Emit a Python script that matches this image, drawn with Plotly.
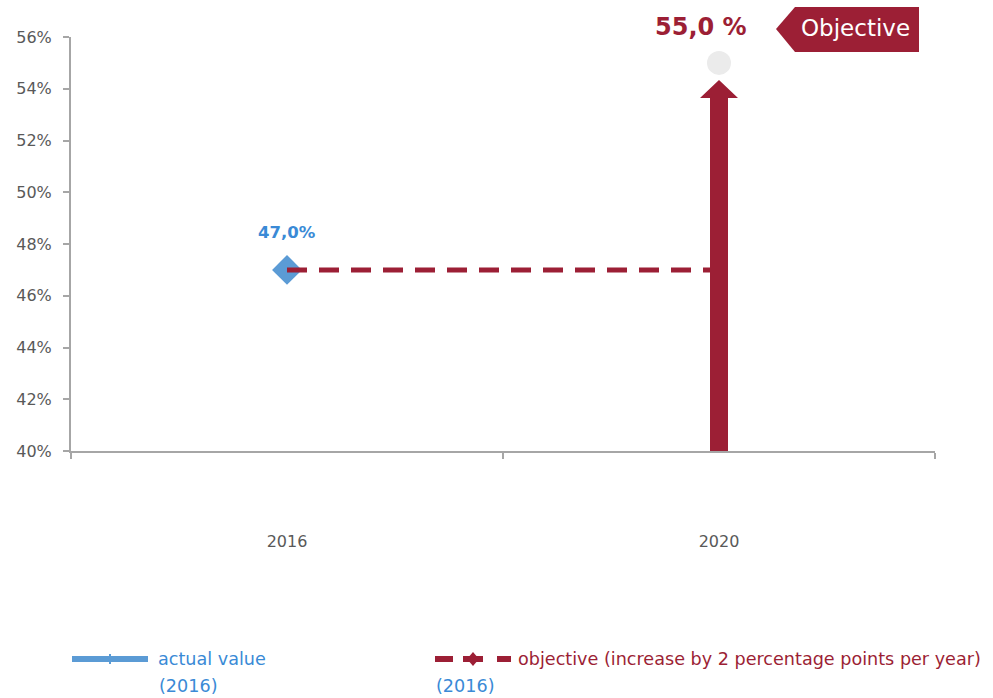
import plotly.graph_objects as go

# ---- data ----
years = ["2016", "2020"]
actual_value = [0.47, None]          # measured share in 2016
objective_line = [0.47, 0.47]        # starting level carried forward to 2020
objective_2020 = [None, 0.55]        # target for 2020
y_ticks = [0.40, 0.42, 0.44, 0.46, 0.48, 0.50, 0.52, 0.54, 0.56]

BLUE = "#5B9BD5"
BLUE_TXT = "#3A8AD6"
RED = "#9C1F35"
GREY = "#A6A6A6"
TICK_TXT = "#595959"
FONT = "DejaVu Sans"

Y_MIN, Y_MAX = y_ticks[0], y_ticks[-1]


def pct(v, sep=""):
    return f"{v * 100:.1f}".replace(".", ",") + sep + "%"


fig = go.Figure()

# actual value marker
fig.add_trace(go.Scatter(
    x=years, y=actual_value, mode="markers",
    marker=dict(symbol="diamond", size=23, color=BLUE),
    showlegend=False, hoverinfo="skip"))

# dashed objective line
fig.add_trace(go.Scatter(
    x=years, y=objective_line, mode="lines",
    line=dict(color=RED, width=5, dash="20px,12px"),
    showlegend=False, hoverinfo="skip"))

# target point
fig.add_trace(go.Scatter(
    x=years, y=objective_2020, mode="markers",
    marker=dict(symbol="circle", size=24, color="#EBEBEB"),
    showlegend=False, hoverinfo="skip"))

t_idx = 1
target = objective_2020[t_idx]
tip = target - 0.0066
head = target - 0.0136

# upward arrow towards the target
fig.add_shape(
    type="path", xref="x", yref="y", xsizemode="pixel", xanchor=t_idx,
    path=(f"M -9,{Y_MIN} L 9,{Y_MIN} L 9,{head} L 19,{head} L 0,{tip} "
          f"L -19,{head} L -9,{head} Z"),
    fillcolor=RED, line=dict(width=0), layer="above")

# "Objective" flag, placed in paper space so it is not clipped
x_paper = (t_idx + 0.5) / len(years)
y_paper = (target - Y_MIN) / (Y_MAX - Y_MIN)
fig.add_shape(
    type="path", xref="paper", yref="paper",
    xsizemode="pixel", ysizemode="pixel",
    xanchor=x_paper, yanchor=y_paper,
    path="M 57,34 L 76,56 L 200,56 L 200,11 L 76,11 Z",
    fillcolor=RED, line=dict(width=0), layer="above")
fig.add_annotation(
    x=x_paper, y=y_paper, xref="paper", yref="paper", xshift=136, yshift=35,
    xanchor="center", yanchor="middle",
    text="Objective", showarrow=False,
    font=dict(family=FONT, size=23, color="white"))

# value labels
fig.add_annotation(
    x=0, y=actual_value[0], xref="x", yref="y", yshift=37,
    text=f"<b>{pct(actual_value[0])}</b>", showarrow=False,
    font=dict(family=FONT, size=16.5, color=BLUE_TXT))
fig.add_annotation(
    x=t_idx, y=target, xref="x", yref="y", xshift=-18, yshift=36,
    text=f"<b>{pct(target, ' ')}</b>", showarrow=False,
    font=dict(family=FONT, size=24, color=RED))

# legend (drawn manually)
def px_x(px):
    return (px - 71) / 864


def px_y(py):
    return (451 - py) / 414


LEG_Y = px_y(659)
fig.add_shape(type="line", xref="paper", yref="paper",
              x0=px_x(72), x1=px_x(148), y0=LEG_Y, y1=LEG_Y,
              line=dict(color=BLUE, width=6))
fig.add_shape(type="line", xref="paper", yref="paper",
              xsizemode="pixel", ysizemode="pixel",
              xanchor=px_x(110), yanchor=LEG_Y,
              x0=0, x1=0, y0=-5, y1=5,
              line=dict(color=BLUE, width=2))
for a, b in [(435, 453), (497, 511)]:
    fig.add_shape(type="line", xref="paper", yref="paper",
                  x0=px_x(a), x1=px_x(b), y0=LEG_Y, y1=LEG_Y,
                  line=dict(color=RED, width=6))
fig.add_shape(type="line", xref="paper", yref="paper",
              x0=px_x(463), x1=px_x(483), y0=LEG_Y, y1=LEG_Y,
              line=dict(color=RED, width=6))
fig.add_shape(type="path", xref="paper", yref="paper",
              xsizemode="pixel", ysizemode="pixel",
              xanchor=px_x(473), yanchor=LEG_Y,
              path="M -6,0 L 0,7 L 6,0 L 0,-7 Z",
              fillcolor=RED, line=dict(width=0))

leg_font = dict(family=FONT, size=17.6)
for txt, px, py, col in [
    ("actual value", 156, 659, BLUE_TXT),
    ("(2016)", 157, 686, BLUE_TXT),
    ("objective (increase by 2 percentage points per year)", 516, 659, RED),
    ("(2016)", 434, 686, BLUE_TXT),
]:
    fig.add_annotation(
        x=px_x(px), y=px_y(py), xref="paper", yref="paper",
        xanchor="left", yanchor="middle", text=txt, showarrow=False,
        font=dict(color=col, **leg_font))

fig.update_xaxes(
    type="category", range=[-0.5, 1.5], tickson="boundaries",
    ticks="outside", ticklen=6, tickcolor=GREY, tickwidth=1.5,
    showline=True, linecolor=GREY, linewidth=2, showgrid=False,
    ticklabelstandoff=75,
    tickfont=dict(family=FONT, size=16, color=TICK_TXT))
fig.update_yaxes(
    range=[Y_MIN, Y_MAX], tickvals=y_ticks,
    ticktext=[f"{round(v * 100)}%" for v in y_ticks],
    ticks="outside", ticklen=6, tickcolor=GREY, tickwidth=1.5,
    showline=True, linecolor=GREY, linewidth=2, showgrid=False,
    zeroline=False, ticklabelstandoff=8,
    tickfont=dict(family=FONT, size=16, color=TICK_TXT))

fig.update_layout(
    width=993, height=698,
    margin=dict(l=71, r=58, t=37, b=247),
    plot_bgcolor="white", paper_bgcolor="white",
    showlegend=False)

fig.write_html("out.html")
